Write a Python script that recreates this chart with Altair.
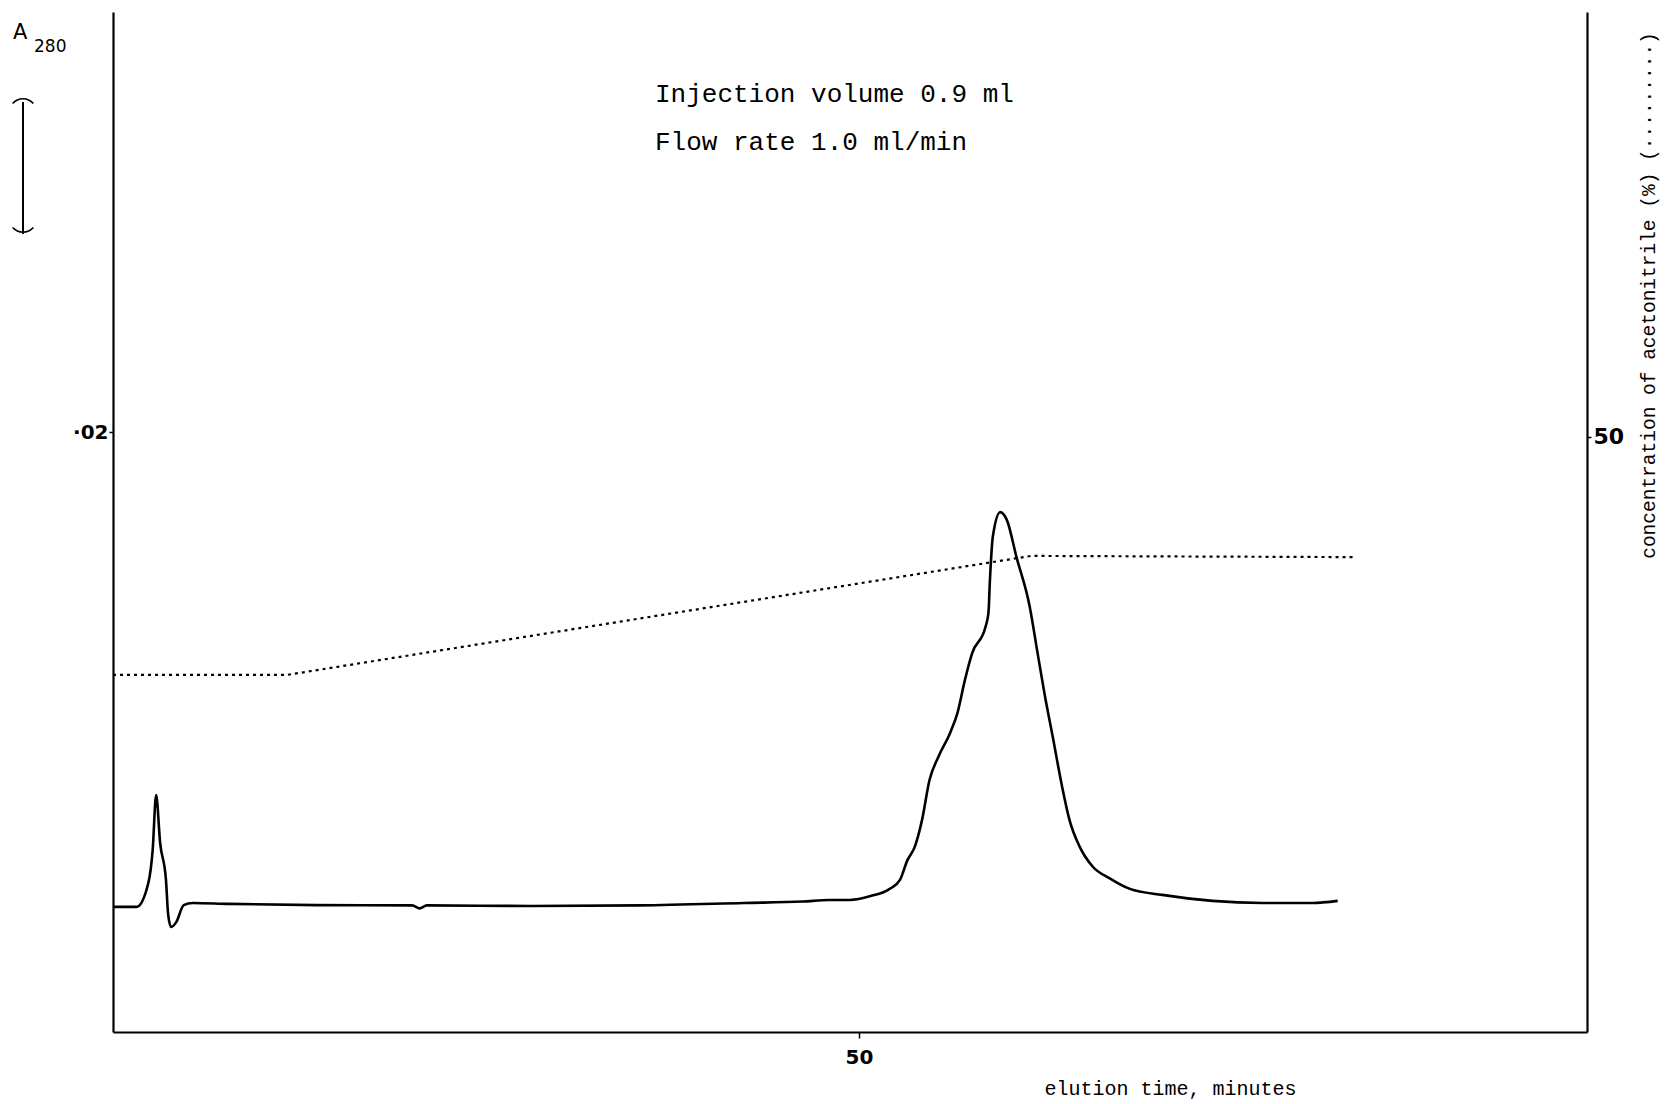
import altair as alt
import pandas as pd

# ---- data ----
time_min = [0, 1.58, 2.37, 2.66, 2.89, 3.16, 3.55, 3.70, 3.90, 4.25, 4.74, 5.33, 7.70,
            13.63, 20.05, 20.55, 21.04, 28.05, 35.37, 42.28, 46.23, 48.01, 49.39, 50.78,
            52.06, 52.75, 53.25, 53.74, 54.23, 54.73, 55.32, 56.11, 56.60, 57.10, 57.59,
            58.48, 58.68, 58.78, 58.97, 59.47, 59.91, 60.56, 61.45, 61.94, 62.43, 63.03,
            63.62, 64.11, 64.80, 65.69, 66.78, 68.16, 70.34, 73.69, 77.05, 80.41, 82.09]
a280 = [0.00417, 0.00417, 0.00497, 0.00607, 0.0079, 0.0063, 0.00507, 0.0039, 0.0035,
        0.00367, 0.00423, 0.0043, 0.00427, 0.00423, 0.00422, 0.00412, 0.00422, 0.0042,
        0.00422, 0.0043, 0.00435, 0.0044, 0.0044, 0.00453, 0.00477, 0.00507, 0.00573,
        0.00617, 0.00707, 0.0084, 0.00917, 0.00997, 0.01063, 0.01173, 0.01263, 0.0135,
        0.01397, 0.01507, 0.0165, 0.01733, 0.01707, 0.01583, 0.01417, 0.01273, 0.0113,
        0.00973, 0.00817, 0.00707, 0.00617, 0.0055, 0.00513, 0.00477, 0.00457, 0.00437,
        0.0043, 0.0043, 0.00437]

grad_time = [0, 11.65, 61.54, 83.18]
grad_pct = [30.0, 30.0, 40.0, 39.9]

notes = ["Injection volume 0.9 ml", "Flow rate 1.0 ml/min"]

absorb = pd.DataFrame({"t": time_min, "a": a280})
grad = pd.DataFrame({"t": grad_time, "p": grad_pct})

X_DOMAIN = [0, 98.8]

x_enc = alt.X("t:Q", scale=alt.Scale(domain=X_DOMAIN, nice=False),
              axis=alt.Axis(values=[50], format="d", title="elution time, minutes",
                            titleX=1057, titleY=62, titleAlign="center",
                            titleBaseline="alphabetic", titleFont="Liberation Mono",
                            titleFontSize=20, titleFontWeight="normal",
                            labelFont="DejaVu Sans", labelFontSize=20, labelFontWeight="bold",
                            labelPadding=9, tickSize=6))

solid = alt.Chart(absorb).mark_line(color="black", strokeWidth=2.6,
                                    interpolate="monotone").encode(
    x=x_enc,
    y=alt.Y("a:Q", scale=alt.Scale(domain=[0, 0.034], nice=False),
            axis=alt.Axis(orient="left", values=[0.02], labelExpr="'·02'", title="",
                          labelFont="DejaVu Sans", labelFontSize=20, labelFontWeight="bold",
                          labelPadding=1, tickSize=4)),
)

dotted = alt.Chart(grad).mark_line(color="black", strokeWidth=2.2, strokeDash=[3, 4]).encode(
    x=alt.X("t:Q", scale=alt.Scale(domain=X_DOMAIN, nice=False)),
    y=alt.Y("p:Q", scale=alt.Scale(domain=[0, 85.7], nice=False),
            axis=alt.Axis(orient="right", values=[50], format="d",
                          title="concentration of acetonitrile (%) (·········)",
                          titleAngle=270, titleX=61, titleY=283, titleAlign="center",
                          titleBaseline="middle", titleFont="Liberation Mono",
                          titleFontSize=19.5, titleFontWeight="normal",
                          labelFont="DejaVu Sans", labelFontSize=22, labelFontWeight="bold",
                          labelPadding=2, tickSize=4)),
)

note_df = pd.DataFrame({"txt": notes, "row": [0, 1]})
note_layer = alt.Chart(note_df).mark_text(
    font="Liberation Mono", fontSize=26, align="left", baseline="alphabetic",
    color="black").encode(
    text="txt:N",
    x=alt.value(542),
    y=alt.Y("row:Q", scale=alt.Scale(domain=[0, 1], range=[90, 138]), axis=None),
)

a_label = alt.Chart(pd.DataFrame({"s": ["A"]})).mark_text(
    font="DejaVu Sans", fontSize=21, align="left", baseline="alphabetic", color="black"
).encode(text="s:N", x=alt.value(-100), y=alt.value(27))
sub_label = alt.Chart(pd.DataFrame({"s": ["280"]})).mark_text(
    font="DejaVu Sans", fontSize=17, align="left", baseline="alphabetic", color="black"
).encode(text="s:N", x=alt.value(-79), y=alt.value(40))

bar = alt.Chart(pd.DataFrame({"k": [0]})).mark_rule(color="black", strokeWidth=2).encode(
    x=alt.value(-90), y=alt.value(90), y2=alt.value(222))
cap_top = alt.Chart(pd.DataFrame({"k": [0]})).mark_arc(
    color="black", radius=14.6, radius2=13.0, theta=5.43, theta2=7.13).encode(
    x=alt.value(-90), y=alt.value(100.6))
cap_bot = alt.Chart(pd.DataFrame({"k": [0]})).mark_arc(
    color="black", radius=14.6, radius2=13.0, theta=2.29, theta2=3.99).encode(
    x=alt.value(-90), y=alt.value(206.4))

chart = alt.layer(solid, dotted, note_layer, a_label, sub_label, bar, cap_top, cap_bot).resolve_scale(
    y="independent"
).properties(
    width=1474, height=1020,
    autosize=alt.AutoSizeParams(type="none"),
    padding={"left": 113, "top": 12, "right": 80, "bottom": 72},
    background="white",
).configure_view(stroke=None).configure_axis(
    grid=False, domainColor="black", domainWidth=2.2, tickColor="black", tickWidth=1.5,
    labelColor="black", titleColor="black"
)

chart.save("out.html", embed_options={"renderer": "svg", "actions": False})
